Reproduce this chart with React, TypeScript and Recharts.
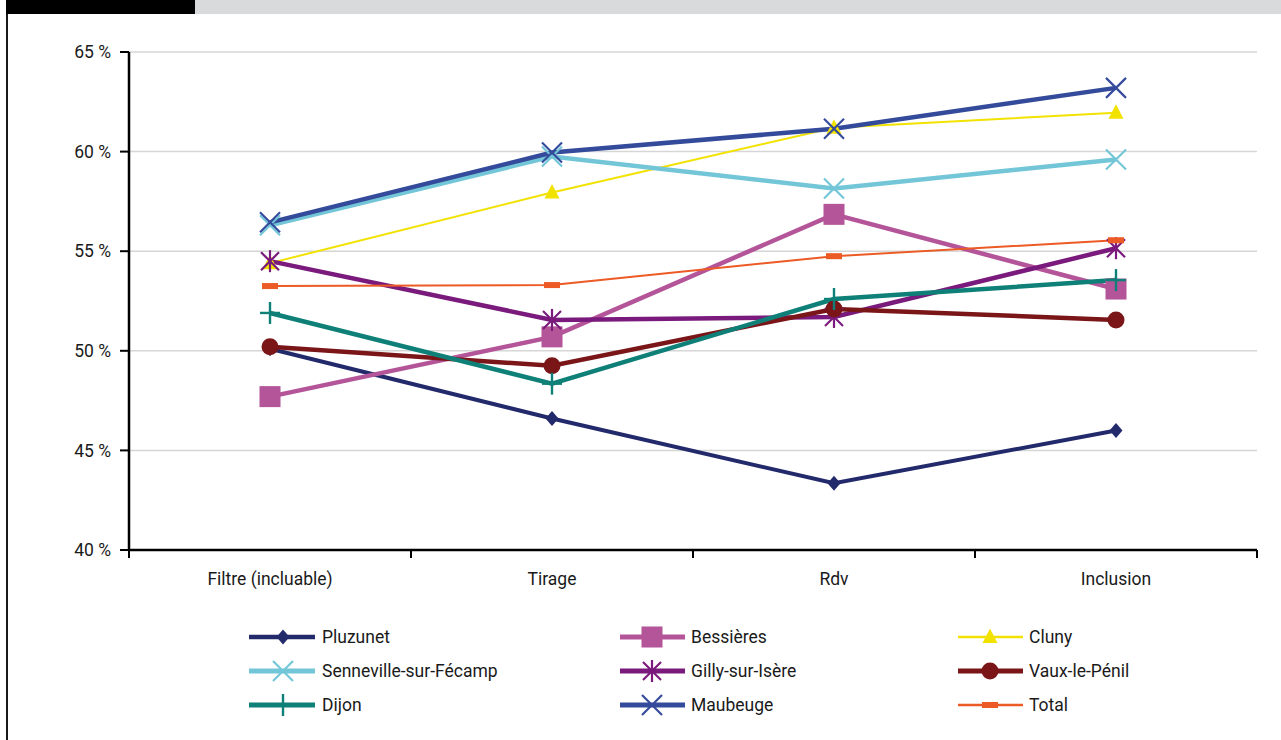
import { CartesianGrid, Line, LineChart, XAxis, YAxis } from "recharts";

const categories = ["Filtre (incluable)", "Tirage", "Rdv", "Inclusion"];

const pluzunet = [50.1, 46.6, 43.35, 46.0];
const bessieres = [47.7, 50.7, 56.85, 53.1];
const cluny = [54.4, 57.95, 61.2, 61.95];
const senneville = [56.3, 59.75, 58.15, 59.6];
const gilly = [54.5, 51.55, 51.7, 55.15];
const vaux = [50.2, 49.25, 52.1, 51.55];
const dijon = [51.9, 48.35, 52.6, 53.55];
const maubeuge = [56.45, 59.95, 61.15, 63.2];
const total = [53.25, 53.3, 54.75, 55.55];

const yTicks = [40, 45, 50, 55, 60, 65];

const FONT = "Roboto, 'Open Sans', sans-serif";
const FONT_SIZE = 17.5;
const PLOT_LEFT = 129;
const PLOT_RIGHT = 1257;
const HALF_BAND = (PLOT_RIGHT - PLOT_LEFT) / categories.length / 2;

type MarkerType = "diamond" | "square" | "triangle" | "cross" | "star" | "circle" | "plus" | "dash";

interface Serie {
  key: string;
  name: string;
  values: number[];
  color: string;
  width: number;
  marker: MarkerType;
}

const series: Serie[] = [
  { key: "pluzunet", name: "Pluzunet", values: pluzunet, color: "#232a6c", width: 4, marker: "diamond" },
  { key: "bessieres", name: "Bessières", values: bessieres, color: "#b45599", width: 4.5, marker: "square" },
  { key: "cluny", name: "Cluny", values: cluny, color: "#f2e200", width: 2, marker: "triangle" },
  { key: "senneville", name: "Senneville-sur-Fécamp", values: senneville, color: "#72c6d8", width: 4.5, marker: "cross" },
  { key: "gilly", name: "Gilly-sur-Isère", values: gilly, color: "#7a1a7c", width: 4.5, marker: "star" },
  { key: "vaux", name: "Vaux-le-Pénil", values: vaux, color: "#7a1518", width: 4.5, marker: "circle" },
  { key: "dijon", name: "Dijon", values: dijon, color: "#0e8077", width: 4.5, marker: "plus" },
  { key: "maubeuge", name: "Maubeuge", values: maubeuge, color: "#344a9b", width: 4.5, marker: "cross" },
  { key: "total", name: "Total", values: total, color: "#ec5a25", width: 2, marker: "dash" },
];

const data = categories.map((cat, i) => {
  const row: Record<string, string | number> = { cat };
  series.forEach((s) => {
    row[s.key] = s.values[i];
  });
  return row;
});

function Marker({ type, color, cx, cy }: { type: MarkerType; color: string; cx: number; cy: number }) {
  const sw = 2.2;
  switch (type) {
    case "diamond":
      return <polygon points={`${cx},${cy - 7.5} ${cx + 6.5},${cy} ${cx},${cy + 7.5} ${cx - 6.5},${cy}`} fill={color} />;
    case "square":
      return <rect x={cx - 10.5} y={cy - 10.5} width={21} height={21} fill={color} />;
    case "triangle":
      return <polygon points={`${cx},${cy - 8.5} ${cx + 7.5},${cy + 6} ${cx - 7.5},${cy + 6}`} fill={color} />;
    case "cross":
      return (
        <g stroke={color} strokeWidth={sw}>
          <line x1={cx - 10} y1={cy - 10} x2={cx + 10} y2={cy + 10} />
          <line x1={cx - 10} y1={cy + 10} x2={cx + 10} y2={cy - 10} />
        </g>
      );
    case "star":
      return (
        <g stroke={color} strokeWidth={sw}>
          <line x1={cx - 9} y1={cy - 9} x2={cx + 9} y2={cy + 9} />
          <line x1={cx - 9} y1={cy + 9} x2={cx + 9} y2={cy - 9} />
          <line x1={cx} y1={cy - 11} x2={cx} y2={cy + 11} />
        </g>
      );
    case "circle":
      return <circle cx={cx} cy={cy} r={8.5} fill={color} />;
    case "plus":
      return (
        <g stroke={color} strokeWidth={2.4}>
          <line x1={cx} y1={cy - 11} x2={cx} y2={cy + 11} />
          <line x1={cx - 10} y1={cy} x2={cx + 10} y2={cy} />
        </g>
      );
    case "dash":
      return <rect x={cx - 8} y={cy - 3} width={16} height={6} fill={color} />;
  }
  return null;
}

function XTick(props: any) {
  const { x, y, payload, index } = props;
  const axisY = y - 8;
  const last = index === categories.length - 1;
  return (
    <g>
      <line x1={x - HALF_BAND} y1={axisY} x2={x - HALF_BAND} y2={axisY + 8} stroke="#000" strokeWidth={2} />
      {last && (
        <line x1={x + HALF_BAND} y1={axisY} x2={x + HALF_BAND} y2={axisY + 8} stroke="#000" strokeWidth={2} />
      )}
      <text x={x} y={axisY + 35} textAnchor="middle" fill="#1a1a1a" fontSize={FONT_SIZE} fontFamily={FONT}>
        {payload.value}
      </text>
    </g>
  );
}

const legendCols = [
  { lineStart: 249, lineEnd: 315, mark: 283, text: 322 },
  { lineStart: 620, lineEnd: 685, mark: 652, text: 691 },
  { lineStart: 958, lineEnd: 1023, mark: 990, text: 1029 },
];
const legendRows = [637, 671, 705];

export default function App() {
  return (
    <div
      style={{
        position: "absolute",
        top: 0,
        left: 0,
        width: 1281,
        height: 740,
        background: "#fff",
        fontFamily: FONT,
        overflow: "hidden",
      }}
    >
      <div style={{ position: "absolute", top: 0, left: 6, width: 189, height: 14, background: "#000" }} />
      <div style={{ position: "absolute", top: 0, left: 195, width: 1086, height: 14, background: "#d9dadc" }} />
      <div style={{ position: "absolute", top: 14, left: 6, width: 1.5, height: 726, background: "#1a1a1a" }} />

      <div style={{ position: "absolute", top: 0, left: 0 }}>
        <LineChart width={1281} height={600} data={data} margin={{ top: 52, right: 24, left: 0, bottom: 0 }}>
          <CartesianGrid vertical={false} stroke="#d6d6d6" strokeWidth={1.5} />
          <XAxis
            dataKey="cat"
            height={50}
            interval={0}
            padding={{ left: HALF_BAND, right: HALF_BAND }}
            axisLine={{ stroke: "#000", strokeWidth: 2.5 }}
            tickLine={false}
            tickSize={8}
            tickMargin={0}
            tick={<XTick />}
          />
          <YAxis
            width={PLOT_LEFT}
            domain={[40, 65]}
            ticks={yTicks}
            interval={0}
            tickFormatter={(v) => `${v} %`}
            axisLine={{ stroke: "#000", strokeWidth: 2.5 }}
            tickLine={{ stroke: "#000", strokeWidth: 2 }}
            tickSize={9}
            tickMargin={9}
            tick={{ fill: "#1a1a1a", fontSize: FONT_SIZE, fontFamily: FONT }}
          />
          {series.map((s) => (
            <Line
              key={s.key}
              dataKey={s.key}
              name={s.name}
              type="linear"
              stroke={s.color}
              strokeWidth={s.width}
              isAnimationActive={false}
              activeDot={false}
              dot={(p: any) => (
                <g key={`${s.key}-${p.index}`}>
                  <Marker type={s.marker} color={s.color} cx={p.cx} cy={p.cy} />
                </g>
              )}
            />
          ))}
        </LineChart>
      </div>

      <svg width={1281} height={740} style={{ position: "absolute", top: 0, left: 0, pointerEvents: "none" }}>
        {series.map((s, i) => {
          const col = legendCols[i % 3];
          const y = legendRows[Math.floor(i / 3)];
          return (
            <g key={s.key}>
              <line x1={col.lineStart} y1={y} x2={col.lineEnd} y2={y} stroke={s.color} strokeWidth={s.width + 0.5} />
              <Marker type={s.marker} color={s.color} cx={col.mark} cy={y} />
              <text x={col.text} y={y + 6} fontSize={FONT_SIZE} fill="#1a1a1a" fontFamily={FONT}>
                {s.name}
              </text>
            </g>
          );
        })}
      </svg>
    </div>
  );
}
